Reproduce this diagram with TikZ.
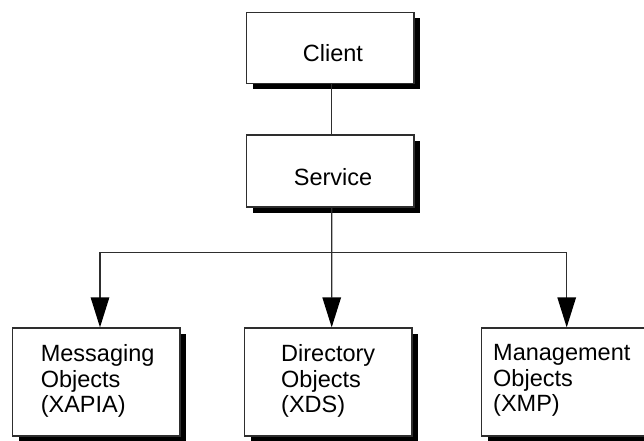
\documentclass[tikz,border=0pt]{standalone}
\usepackage{fontspec}
\setmainfont{Liberation Sans}
\usetikzlibrary{arrows.meta,shadows}
\definecolor{edge}{HTML}{2E2E2E}
\tikzset{
  box/.style={draw=edge, line width=1.3pt, fill=white, inner sep=0pt,
    minimum width=167.3pt,
    drop shadow={shadow xshift=6pt, shadow yshift=-6pt, opacity=1, fill=black}},
  lbl/.style={inner sep=0pt, font=\fontsize{23.5}{25.5}\selectfont, text=black},
  link/.style={draw=edge, line width=1.3pt},
  arr/.style={link, -{Triangle[length=30pt,width=18.5pt,fill=black,color=black]}}
}
\begin{document}
\begin{tikzpicture}[x=1pt,y=-1pt]
  \useasboundingbox (0,0) rectangle (644,440);
  \clip (0,0) rectangle (644,440);

  % upper column
  \node[box, minimum height=71pt] (client)  at (330.35,47.8) {};
  \node[box, minimum height=72pt] (service) at (330.35,171)  {};
  \node[lbl, anchor=base] (tclient)  at (333,61.7) {Client};
  \node[lbl, anchor=base] (tservice) at (333,185)  {Service};

  % object packages
  \node[box, minimum height=108pt] (msg) at (96.35,382)  {};
  \node[box, minimum height=108pt] (dir) at (328.35,382) {};
  \node[box, minimum height=108pt] (mgt) at (565.35,382) {};
  \node[lbl, anchor=north west, align=left] (tmsg) at (40.6,344.5)
    {Messaging\\Objects\\(XAPIA)};
  \node[lbl, anchor=north west, align=left] (tdir) at (281,344.5)
    {Directory\\Objects\\(XDS)};
  \node[lbl, anchor=north west, align=left] (tmgt) at (493,344.5)
    {Management\\Objects\\(XMP)};

  % connectors
  \coordinate (split) at (331.7,252.5);
  \draw[link] ([xshift=1.35pt]client.south) -- ([xshift=1.35pt]service.north);
  \draw[link] ([xshift=1.35pt]service.south) -- (split);
  \draw[arr] (split) -| ([xshift=3.65pt]msg.north);
  \draw[arr] (split) -- ([xshift=3.35pt]dir.north);
  \draw[arr] (split) -| ([xshift=1.35pt]mgt.north);
\end{tikzpicture}
\end{document}
